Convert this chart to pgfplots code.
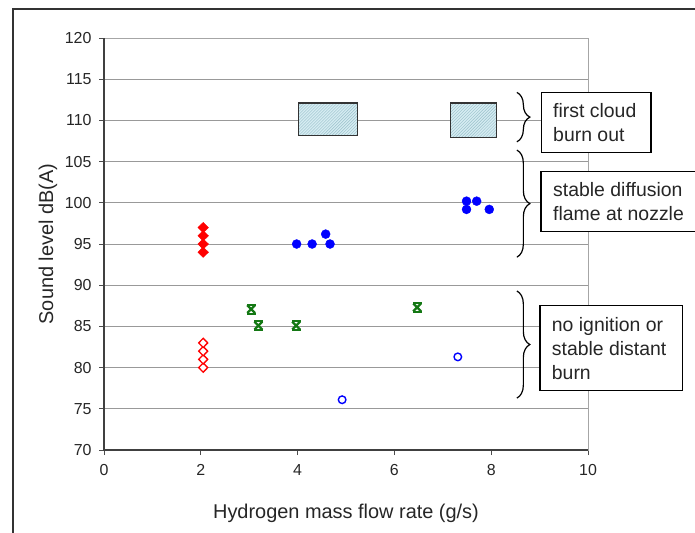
\documentclass[border=0pt]{standalone}
\usepackage{pgfplots}
\pgfplotsset{compat=1.18}
\usepackage{fontspec}
\setmainfont{Liberation Sans}
\usetikzlibrary{patterns,decorations.pathreplacing}
\definecolor{hatchfill}{RGB}{214,236,242}
\definecolor{hatchline}{RGB}{150,190,200}
\definecolor{mkgreen}{RGB}{20,120,20}
\begin{document}
\begin{tikzpicture}
\useasboundingbox (0,0) rectangle (695bp,-533bp);
\draw[black!80, line width=2bp] (13bp,-540bp) -- (13bp,-9bp) -- (700bp,-9bp);
\begin{axis}[
  at={(104bp,-450bp)}, anchor=south west,
  scale only axis, width=484bp, height=412bp,
  xmin=0, xmax=10, ymin=70, ymax=120,
  xtick={0,2,...,10}, ytick={70,75,...,120},
  ymajorgrids, major grid style={black!40, line width=1bp},
  axis line style={black!35, line width=1bp},
  tick pos=left, tick align=outside, major tick length=5bp,
  tick style={black!70, line width=0.8bp},
  tick label style={font=\fontsize{16}{19}\selectfont, text=black!85},
  xticklabel style={yshift=-6bp},
  yticklabel style={xshift=-4bp},
  /pgf/number format/assume math mode=true,
  xlabel={Hydrogen mass flow rate (g/s)},
  ylabel={Sound level dB(A)},
  label style={font=\fontsize{20}{24}\selectfont, text=black!85},
  xlabel style={at={(axis description cs:0.5,0)}, anchor=base, yshift=-68bp},
  ylabel style={at={(axis description cs:0,0.5)}, anchor=base, yshift=51bp},
  clip=false,
]
% annotation rectangles
\addplot[draw=black!80, line width=1.2bp, fill=hatchfill,
  postaction={pattern=north east lines, pattern color=hatchline}]
  coordinates {(4.02,108.2) (5.23,108.2) (5.23,112.1) (4.02,112.1)} -- cycle;
\addplot[draw=black!80, line width=1.2bp, fill=hatchfill,
  postaction={pattern=north east lines, pattern color=hatchline}]
  coordinates {(7.16,107.9) (8.11,107.9) (8.11,112.1) (7.16,112.1)} -- cycle;
% red filled diamonds
\addplot[only marks, mark=diamond*, mark size=5.2bp, color=red,
  mark options={xscale=1.35, fill=red}]
  coordinates {(2.05,94) (2.05,95) (2.05,96) (2.05,97)};
% red open diamonds
\addplot[only marks, mark=diamond*, mark size=4.6bp, color=red,
  mark options={xscale=1.3, fill=white, line width=1.3bp}]
  coordinates {(2.05,80) (2.05,81) (2.05,82) (2.05,83)};
% blue filled circles
\addplot[only marks, mark=*, mark size=4.5bp, color=blue,
  mark options={fill=blue}]
  coordinates {(3.98,95) (4.30,95) (4.58,96.2) (4.67,95)
               (7.49,100.2) (7.70,100.2) (7.49,99.2) (7.96,99.2)};
% blue open circles
\addplot[only marks, mark=o, mark size=3.8bp, color=blue,
  mark options={line width=1.4bp}]
  coordinates {(4.92,76.1) (7.31,81.3)};
% green stars
\addplot[only marks, mark=x, mark size=5.5bp, color=mkgreen,
  mark options={line width=2.3bp}]
  coordinates {(3.04,87.1) (3.19,85.1) (3.97,85.1) (6.47,87.3)};
\addplot[only marks, mark=-, mark size=4.5bp, color=mkgreen,
  mark options={line width=1.8bp, yshift=4.5bp}]
  coordinates {(3.04,87.1) (3.19,85.1) (3.97,85.1) (6.47,87.3)};
\addplot[only marks, mark=-, mark size=4.5bp, color=mkgreen,
  mark options={line width=1.8bp, yshift=-4.5bp}]
  coordinates {(3.04,87.1) (3.19,85.1) (3.97,85.1) (6.47,87.3)};
% darker left and bottom axis lines
\draw[black!75, line width=1.6bp] (rel axis cs:0,1) -- (rel axis cs:0,0) -- (rel axis cs:1,0);
% braces
\draw[black, line width=1.2bp, decorate, decoration={brace, amplitude=13bp}]
  (axis cs:8.53,113.4) -- (axis cs:8.53,107.4);
\draw[black, line width=1.2bp, decorate, decoration={brace, amplitude=13bp}]
  (axis cs:8.53,106.4) -- (axis cs:8.53,93.4);
\draw[black, line width=1.2bp, decorate, decoration={brace, amplitude=13bp}]
  (axis cs:8.53,89.3) -- (axis cs:8.53,76.3);
\end{axis}
% text boxes
\draw[black, line width=1.3bp, fill=white] (541.7bp,-92.3bp) rectangle (651bp,-152.3bp);
\node[anchor=west, align=left, inner sep=0pt, font=\fontsize{19.5}{24}\selectfont, text=black!85]
  at (553bp,-122.3bp) {first cloud\\burn out};
\draw[black, line width=1.3bp, fill=white] (541bp,-171.7bp) rectangle (705bp,-231.7bp);
\node[anchor=west, align=left, inner sep=0pt, font=\fontsize{19.5}{24}\selectfont, text=black!85]
  at (553bp,-201.7bp) {stable diffusion\\flame at nozzle};
\draw[black, line width=1.3bp, fill=white] (540bp,-305.7bp) rectangle (682.7bp,-390.7bp);
\node[anchor=west, align=left, inner sep=0pt, font=\fontsize{19.5}{24}\selectfont, text=black!85]
  at (551.7bp,-348.2bp) {no ignition or\\stable distant\\burn};
\end{tikzpicture}
\end{document}
